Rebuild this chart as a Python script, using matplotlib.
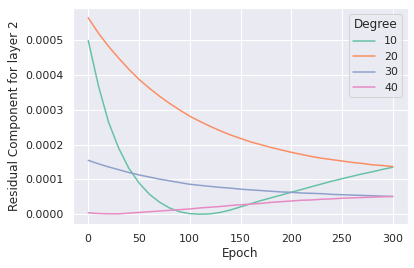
import matplotlib
matplotlib.use("Agg")
import matplotlib.pyplot as plt
import seaborn as sns
import numpy as np

sns.set_theme(style="darkgrid", context="notebook")

epochs = list(range(0, 301, 10))
degrees = ["10", "20", "30", "40"]

# values in units of 1e-6
deg10 = [500, 370, 265, 190, 132, 90, 58, 35, 18, 7, 1.5, 0, 1, 5, 12, 21,
         30, 39, 47, 55, 63, 71, 79, 87, 95, 102, 109, 116, 122, 129, 135]
deg20 = [565, 521, 483, 449, 417, 388, 363, 340, 319, 300, 282, 267, 253, 240,
         228, 218, 208, 200, 192, 185, 178, 172, 166, 161, 157, 153, 149, 146,
         142, 140, 137]
deg30 = [155, 145, 136, 128, 120, 113, 107, 101, 96, 91, 86, 83, 80, 77, 75,
         72, 70, 68, 66, 64, 63, 61, 60, 59, 57, 56, 55, 54, 53, 52, 51]
deg40 = [4, 2, 1, 1, 3, 5, 7, 9, 11, 13, 15, 18, 20, 22, 25, 27, 29, 31, 34,
         36, 38, 40, 41, 43, 44, 46, 47, 48, 49, 50, 51]

colors = sns.color_palette("Set2", 4)

fig = plt.figure(figsize=(414 / 72, 268 / 72), dpi=72)
ax = fig.add_axes([73 / 414, 1 - 224 / 268, 335 / 414, 216 / 268])

for lab, vals, c in zip(degrees, [deg10, deg20, deg30, deg40], colors):
    ax.plot(epochs, np.array(vals) * 1e-6, color=c, label=lab, linewidth=1.5)

ax.set_xlabel("Epoch")
ax.set_ylabel("Residual Component for layer 2")
ax.set_xticks([0, 50, 100, 150, 200, 250, 300])
ax.set_yticks([0, 0.0001, 0.0002, 0.0003, 0.0004, 0.0005])
ax.set_yticklabels(["0.0000", "0.0001", "0.0002", "0.0003", "0.0004", "0.0005"])
ax.legend(title="Degree", loc="upper right")

fig.savefig("out.png", dpi=72)
